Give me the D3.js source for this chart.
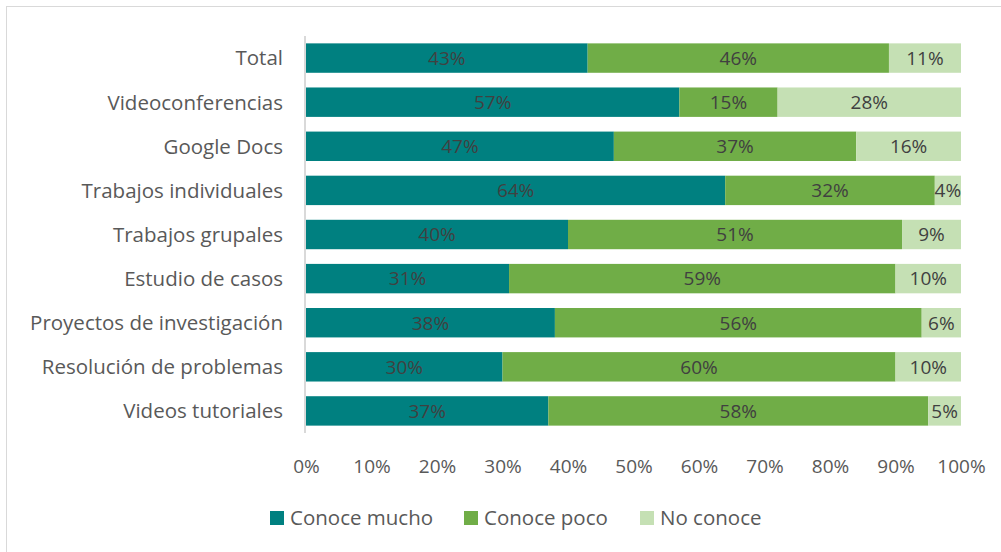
<!DOCTYPE html>
<html>
<head>
<meta charset="utf-8">
<script src="https://cdn.jsdelivr.net/npm/d3@7"></script>
<style>
  body { margin: 0; background: #fff; }
  svg { font-family: "Open Sans", sans-serif; }
</style>
</head>
<body>
<div id="chart"></div>
<script>
// Categorías (de arriba hacia abajo)
const categorias = ["Total", "Videoconferencias", "Google Docs", "Trabajos individuales",
  "Trabajos grupales", "Estudio de casos", "Proyectos de investigación",
  "Resolución de problemas", "Videos tutoriales"];

// Valores por serie (%)
const conoceMucho = [43, 57, 47, 64, 40, 31, 38, 30, 37];
const conocePoco  = [46, 15, 37, 32, 51, 59, 56, 60, 58];
const noConoce    = [11, 28, 16, 4, 9, 10, 6, 10, 5];

const series = ["Conoce mucho", "Conoce poco", "No conoce"];
const ticks = [0, 10, 20, 30, 40, 50, 60, 70, 80, 90, 100];

const width = 1001, height = 552;
const colores = d3.scaleOrdinal().domain(series).range(["#008080", "#70AD47", "#C5E0B4"]);

// Tabla para el stack
const tabla = categorias.map((c, i) => ({
  cat: c,
  "Conoce mucho": conoceMucho[i],
  "Conoce poco": conocePoco[i],
  "No conoce": noConoce[i]
}));
const apilado = d3.stack().keys(series)(tabla);

const x = d3.scaleLinear().domain([0, 100]).range([306, 961]);
const y = d3.scaleBand().domain(categorias).range([36, 433])
  .paddingInner(0.333).paddingOuter(0.167);

const svg = d3.select("#chart").append("svg")
  .attr("width", width).attr("height", height);

// Borde del gráfico
svg.append("rect")
  .attr("x", 6.5).attr("y", 6.5)
  .attr("width", width + 10).attr("height", height + 10)
  .attr("fill", "none").attr("stroke", "#d9d9d9");

// Barras
const grupos = svg.selectAll(".serie")
  .data(apilado)
  .enter().append("g")
  .attr("fill", d => colores(d.key));

grupos.selectAll("rect")
  .data(d => d)
  .enter().append("rect")
  .attr("x", d => x(d[0]))
  .attr("y", d => y(d.data.cat))
  .attr("width", d => x(d[1]) - x(d[0]))
  .attr("height", y.bandwidth());

// Etiquetas de valor
grupos.selectAll("text")
  .data(d => d)
  .enter().append("text")
  .attr("x", d => (x(d[0]) + x(d[1])) / 2)
  .attr("y", d => y(d.data.cat) + y.bandwidth() / 2)
  .attr("dy", "0.36em")
  .attr("text-anchor", "middle")
  .attr("fill", "#404040")
  .style("font-size", "19px")
  .text(d => (d[1] - d[0]) + "%");

// Eje vertical
svg.append("line")
  .attr("x1", 305).attr("x2", 305)
  .attr("y1", 36).attr("y2", 433)
  .attr("stroke", "#d9d9d9").attr("stroke-width", 2);

// Etiquetas de categorías
svg.selectAll(".cat")
  .data(categorias)
  .enter().append("text")
  .attr("class", "cat")
  .attr("x", 283)
  .attr("y", d => y(d) + y.bandwidth() / 2)
  .attr("dy", "0.36em")
  .attr("text-anchor", "end")
  .attr("fill", "#595959")
  .style("font-size", "20.5px")
  .text(d => d);

// Eje X
const ejeX = svg.append("g")
  .attr("transform", "translate(0,466)")
  .call(d3.axisBottom(x).tickValues(ticks).tickFormat(d => d + "%").tickSize(0));
ejeX.select(".domain").remove();
ejeX.selectAll("text")
  .attr("y", 0).attr("dy", "0.36em")
  .attr("fill", "#595959")
  .style("font-family", "'Open Sans', sans-serif")
  .style("font-size", "19px");

// Leyenda
const leyendaX = [270, 464, 640];
const leyenda = svg.selectAll(".ley")
  .data(series)
  .enter().append("g")
  .attr("transform", (d, i) => `translate(${leyendaX[i]},511)`);
leyenda.append("rect")
  .attr("width", 14).attr("height", 14)
  .attr("fill", d => colores(d));
leyenda.append("text")
  .attr("x", 20).attr("y", 7).attr("dy", "0.36em")
  .attr("fill", "#595959")
  .style("font-size", "20.5px")
  .text(d => d);
</script>
</body>
</html>
